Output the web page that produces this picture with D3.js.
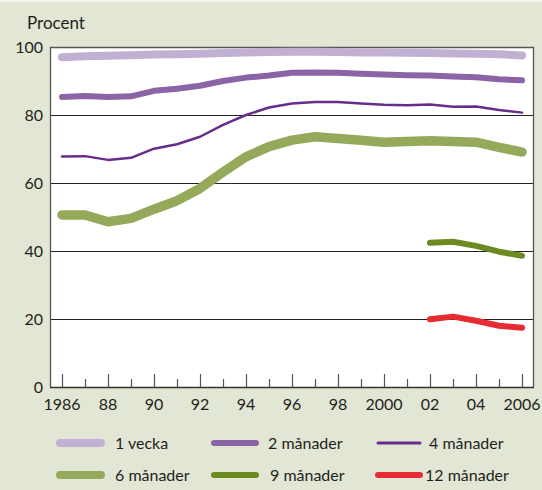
<!doctype html>
<html lang="sv">
<head>
	<meta charset="UTF-8">
	<title>Amning | d3</title>
	<style>
		body { margin: 0; background: #e2e6d4; }
		svg { display: block; }
		text { font-family: Lato, "Open Sans", sans-serif; fill: #231f20; }
		.tick-label { font-size: 16px; }
		.legend-label { font-size: 16px; }
	</style>
</head>
<body>
	<script src="https://cdn.jsdelivr.net/npm/d3@7/dist/d3.min.js"></script>
	<script>
		var years = d3.range(1986, 2007),
			yearsLate = d3.range(2002, 2007),
			xTickLabels = ['1986', '88', '90', '92', '94', '96', '98', '2000', '02', '04', '2006'],
			yTicks = [0, 20, 40, 60, 80, 100];

		var vecka1 = [97.0, 97.3, 97.4, 97.6, 97.8, 97.9, 98.0, 98.2, 98.4, 98.5, 98.6, 98.6, 98.5, 98.4, 98.4, 98.3, 98.2, 98.1, 98.0, 97.9, 97.5],
			manad2 = [85.3, 85.6, 85.3, 85.5, 87.1, 87.7, 88.6, 90.0, 91.0, 91.6, 92.4, 92.5, 92.4, 92.1, 91.9, 91.7, 91.6, 91.3, 91.1, 90.5, 90.2],
			manad4 = [67.8, 67.9, 66.8, 67.4, 70.1, 71.4, 73.6, 77.1, 80.0, 82.2, 83.4, 83.8, 83.8, 83.4, 83.0, 82.9, 83.1, 82.4, 82.5, 81.5, 80.7],
			manad6 = [50.6, 50.6, 48.6, 49.6, 52.3, 54.8, 58.4, 63.2, 67.7, 70.7, 72.6, 73.6, 73.1, 72.6, 72.0, 72.2, 72.4, 72.2, 72.0, 70.5, 69.1],
			manad9 = [42.4, 42.7, 41.5, 39.8, 38.6],
			manad12 = [19.9, 20.7, 19.5, 18.0, 17.4];

		var seriesNames = ['1 vecka', '2 månader', '4 månader', '6 månader', '9 månader', '12 månader'];

		var w = 542,
			h = 490,
			plotLeft = 50, plotRight = 533, plotTop = 47, plotBottom = 387;

		var series = [
			{ name: seriesNames[0], x: years, y: vecka1, color: '#c2b0d2', width: 8 },
			{ name: seriesNames[1], x: years, y: manad2, color: '#8b64a5', width: 6 },
			{ name: seriesNames[2], x: years, y: manad4, color: '#672c8c', width: 2.5 },
			{ name: seriesNames[3], x: years, y: manad6, color: '#95a95b', width: 9.5 },
			{ name: seriesNames[4], x: yearsLate, y: manad9, color: '#6b8b22', width: 6 },
			{ name: seriesNames[5], x: yearsLate, y: manad12, color: '#e62b33', width: 6 }
		];

		var svg = d3.select('body')
			.append('svg')
			.attr('width', w)
			.attr('height', h);

		// background and light top strip
		svg.append('rect').attr('width', w).attr('height', h).attr('fill', '#e2e6d4');
		svg.append('rect').attr('width', w).attr('height', 2).attr('fill', '#f4f5ee');

		var xScale = d3.scaleLinear().domain([1986, 2006]).range([62, 522]);
		var yScale = d3.scaleLinear().domain([0, 100]).range([plotBottom, plotTop]);

		// plot area
		svg.append('rect')
			.attr('x', plotLeft).attr('y', plotTop)
			.attr('width', plotRight - plotLeft).attr('height', plotBottom - plotTop)
			.attr('fill', '#fff');

		// grid lines
		svg.selectAll('.grid')
			.data([20, 40, 60, 80])
			.enter()
			.append('line')
			.attr('x1', plotLeft).attr('x2', plotRight)
			.attr('y1', function(d) { return Math.round(yScale(d)) + 0.5; })
			.attr('y2', function(d) { return Math.round(yScale(d)) + 0.5; })
			.attr('stroke', '#222')
			.attr('stroke-width', 1.2);

		// frame
		svg.append('path')
			.attr('d', 'M' + (plotLeft + 0.5) + ',' + (plotBottom + 0.5) + 'V' + (plotTop + 0.5) + 'H' + (plotRight + 0.5) + 'V' + (plotBottom + 0.5))
			.attr('fill', 'none')
			.attr('stroke', '#555')
			.attr('stroke-width', 1.3);
		svg.append('line')
			.attr('x1', plotLeft).attr('x2', plotRight + 1)
			.attr('y1', plotBottom + 0.5).attr('y2', plotBottom + 0.5)
			.attr('stroke', '#333')
			.attr('stroke-width', 1.5);

		// x ticks (inside, pointing up)
		svg.selectAll('.xtick')
			.data(years)
			.enter()
			.append('line')
			.attr('x1', function(d) { return Math.round(xScale(d)) + 0.5; })
			.attr('x2', function(d) { return Math.round(xScale(d)) + 0.5; })
			.attr('y1', plotBottom)
			.attr('y2', function(d) { return d % 2 === 0 ? plotBottom - 13 : plotBottom - 8; })
			.attr('stroke', '#555')
			.attr('stroke-width', 1.2);

		// x labels
		svg.selectAll('.xlabel')
			.data(xTickLabels)
			.enter()
			.append('text')
			.attr('class', 'tick-label')
			.attr('x', function(d, i) { return xScale(1986 + i * 2); })
			.attr('y', 410)
			.attr('text-anchor', 'middle')
			.text(function(d) { return d; });

		// y labels
		svg.selectAll('.ylabel')
			.data(yTicks)
			.enter()
			.append('text')
			.attr('class', 'tick-label')
			.attr('x', 43)
			.attr('y', function(d) { return yScale(d) + 6; })
			.attr('text-anchor', 'end')
			.text(function(d) { return d; });

		svg.append('text')
			.attr('x', 27).attr('y', 29)
			.style('font-size', '17px')
			.text('Procent');

		// lines
		var line = d3.line()
			.x(function(d) { return xScale(d[0]); })
			.y(function(d) { return yScale(d[1]); });

		series.forEach(function(s) {
			svg.append('path')
				.datum(d3.zip(s.x, s.y))
				.attr('d', line)
				.attr('fill', 'none')
				.attr('stroke', s.color)
				.attr('stroke-width', s.width)
				.attr('stroke-linecap', 'round')
				.attr('stroke-linejoin', 'round');
		});

		// legend
		var legendPos = [
			{ x: 60, tx: 115, y: 443 },
			{ x: 214, tx: 268, y: 443 },
			{ x: 378, tx: 429, y: 443 },
			{ x: 60, tx: 115, y: 475 },
			{ x: 214, tx: 270, y: 475 },
			{ x: 378, tx: 425, y: 475 }
		];

		var legend = svg.selectAll('.legend')
			.data(series)
			.enter()
			.append('g');

		legend.append('line')
			.attr('x1', function(d, i) { return legendPos[i].x; })
			.attr('x2', function(d, i) { return legendPos[i].x + (i % 3 === 0 ? 41 : 42); })
			.attr('y1', function(d, i) { return legendPos[i].y; })
			.attr('y2', function(d, i) { return legendPos[i].y; })
			.attr('stroke', function(d) { return d.color; })
			.attr('stroke-width', function(d) { return d.width === 2.5 ? 3 : Math.min(d.width, 8); })
			.attr('stroke-linecap', 'round');

		legend.append('text')
			.attr('class', 'legend-label')
			.attr('x', function(d, i) { return legendPos[i].tx; })
			.attr('y', function(d, i) { return legendPos[i].y + 6; })
			.text(function(d) { return d.name; });
	</script>
</body>
</html>
